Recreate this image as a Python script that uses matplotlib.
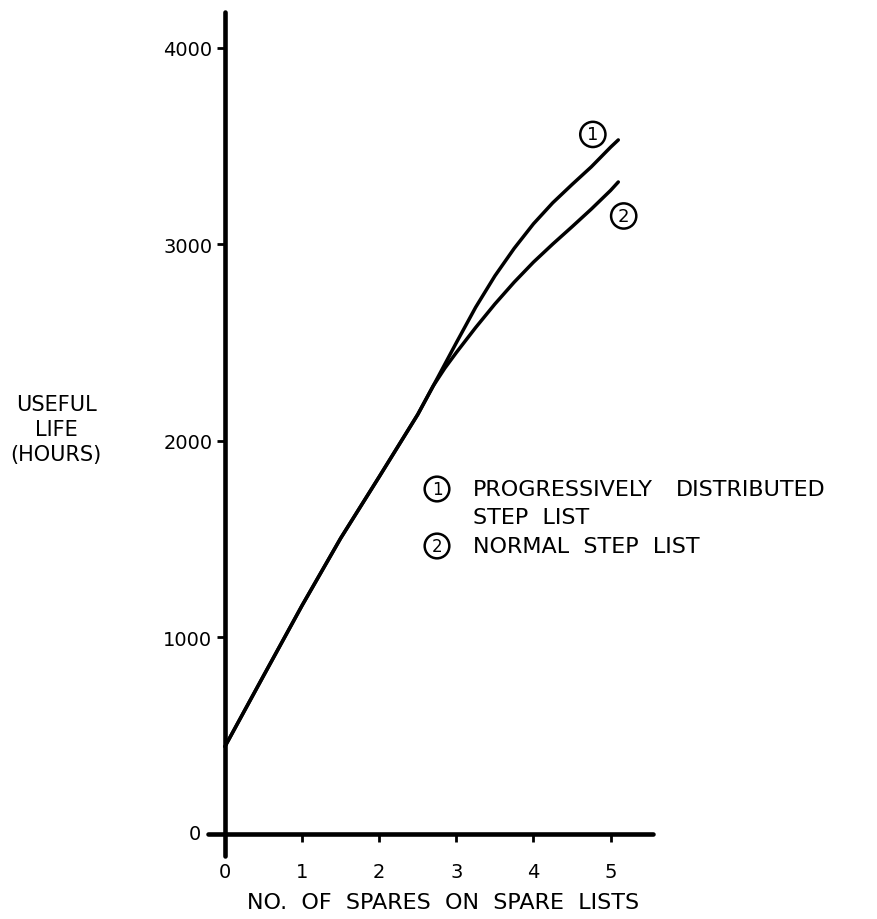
import matplotlib
matplotlib.use("Agg")
import matplotlib.pyplot as plt

# Useful life (hours) vs. number of spares on spare lists.
# Both step lists follow the same curve up to about 2.7 spares.
x_common = [0.0, 0.5, 1.0, 1.5, 2.0, 2.5, 2.7]
y_common = [445, 805, 1163, 1505, 1818, 2135, 2280]

# (1) progressively distributed step list
x_prog = [2.85, 3.0, 3.25, 3.5, 3.75, 4.0, 4.25, 4.5, 4.75, 5.0, 5.1]
y_prog = [2390, 2500, 2680, 2840, 2980, 3105, 3212, 3305, 3395, 3495, 3532]

# (2) normal step list
x_norm = [2.85, 3.0, 3.25, 3.5, 3.75, 4.0, 4.25, 4.5, 4.75, 5.0, 5.1]
y_norm = [2370, 2450, 2577, 2697, 2808, 2910, 3002, 3090, 3180, 3275, 3318]

x_ticks = [0, 1, 2, 3, 4, 5]
x_ticklabels = ["0", "1", "2", "3", "4", "5"]
y_ticks = [0, 1000, 2000, 3000, 4000]
y_ticklabels = ["0", "1000", "2000", "3000", "4000"]

plt.rcParams["font.family"] = ["DejaVu Sans"]

W, H = 878, 920
fig = plt.figure(figsize=(W / 100, H / 100), dpi=100)
ax = fig.add_axes([208 / W, 1 - 857 / H, (653 - 208) / W, (857 - 13) / H])
ax.set_xlim(-0.22, 5.55)
ax.set_ylim(-112, 4183)

for side in ("top", "right"):
    ax.spines[side].set_visible(False)
for side in ("left", "bottom"):
    ax.spines[side].set_position(("data", 0))
    ax.spines[side].set_linewidth(3.3)
    ax.spines[side].set_capstyle("round")
ax.spines["left"].set_bounds(-112, 4183)
ax.spines["bottom"].set_bounds(-0.22, 5.55)

ax.set_xticks(x_ticks)
ax.set_xticklabels(x_ticklabels)
ax.set_yticks(y_ticks)
# the zero label sits left of the extended x axis, drawn separately below
ax.set_yticklabels(["" if t == "0" else t for t in y_ticklabels])
ax.tick_params(axis="x", direction="out", length=6, width=2, pad=14, labelsize=14)
ax.tick_params(axis="y", direction="out", length=6, width=2, pad=3, labelsize=14)
ax.text(-0.31, y_ticks[0], y_ticklabels[0], ha="right", va="center", fontsize=14)

lw = 2.5
ax.plot(x_common + x_prog, y_common + y_prog, color="black", lw=lw,
        solid_capstyle="round", solid_joinstyle="round")
ax.plot(x_common + x_norm, y_common + y_norm, color="black", lw=lw,
        solid_capstyle="round", solid_joinstyle="round")

circ = dict(boxstyle="circle,pad=0.2", fc="white", ec="black", lw=1.8)
ax.text(4.77, 3560, "1", ha="center", va="center", fontsize=13, bbox=circ)
ax.text(5.17, 3145, "2", ha="center", va="center", fontsize=13, bbox=circ)

# Key
kfs = 16
fig.text(437 / W, 1 - 490 / H, "1", ha="center", va="center", fontsize=12, bbox=circ)
fig.text(473 / W, 1 - 490 / H, "PROGRESSIVELY", ha="left", va="center", fontsize=kfs)
fig.text(676 / W, 1 - 490 / H, "DISTRIBUTED", ha="left", va="center", fontsize=kfs)
fig.text(473 / W, 1 - 518 / H, "STEP  LIST", ha="left", va="center", fontsize=kfs)
fig.text(437 / W, 1 - 547 / H, "2", ha="center", va="center", fontsize=12, bbox=circ)
fig.text(473 / W, 1 - 547 / H, "NORMAL  STEP  LIST", ha="left", va="center", fontsize=kfs)

fig.text(56 / W, 1 - 430 / H, "USEFUL\nLIFE\n(HOURS)", ha="center", va="center",
         fontsize=15, linespacing=1.3)
fig.text(443 / W, 1 - 903 / H, "NO.  OF  SPARES  ON  SPARE  LISTS", ha="center",
         va="center", fontsize=16)

fig.savefig("out.png", dpi=100, facecolor="white")
